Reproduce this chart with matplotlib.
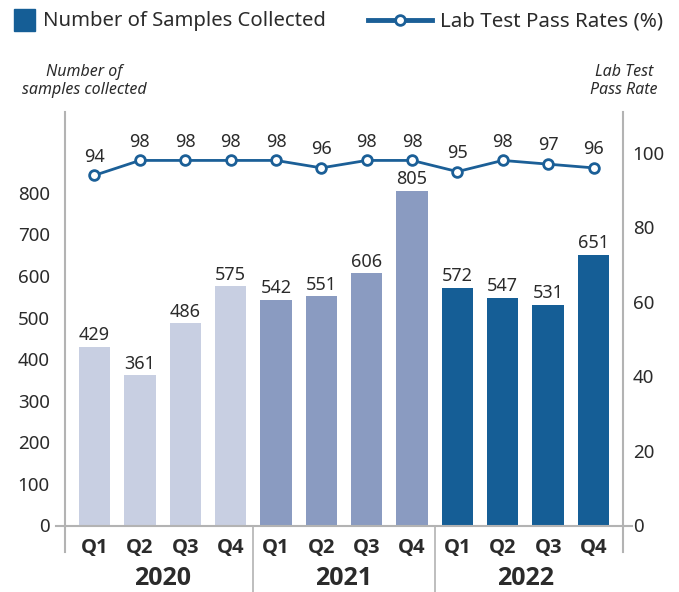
import matplotlib
matplotlib.use("Agg")
import matplotlib.pyplot as plt
from matplotlib.lines import Line2D
from matplotlib.patches import Rectangle

plt.rcParams['font.family'] = ['Noto Sans', 'DejaVu Sans']

years = ["2020", "2021", "2022"]
quarters = ["Q1", "Q2", "Q3", "Q4"]
samples = [429, 361, 486, 575, 542, 551, 606, 805, 572, 547, 531, 651]
pass_rates = [94, 98, 98, 98, 98, 96, 98, 98, 95, 98, 97, 96]
year_colors = ["#c8cfe2", "#8a9bc1", "#155e96"]
line_color = "#1b5f97"
text_color = "#2b2b2b"
grey = "#b3b3b3"
bold_family = ['Open Sans', 'Roboto', 'DejaVu Sans']

W, H = 679, 592
fig = plt.figure(figsize=(W / 100, H / 100), dpi=100)
ax_l, ax_r, ax_b, ax_t = 65, 623, 525.5, 112
ax = fig.add_axes([ax_l / W, 1 - ax_b / H, (ax_r - ax_l) / W, (ax_b - ax_t) / H])
ax2 = ax.twinx()

n = len(samples)
xs = list(range(n))
colors = [year_colors[i // 4] for i in xs]
ax.bar(xs, samples, width=0.69, color=colors, zorder=2)
ax.set_xlim(-0.65, n - 1 + 0.65)
ax.set_ylim(0, 994)
ax2.set_ylim(0, 111)

for x, v in zip(xs, samples):
    ax.annotate(str(v), (x, v), xytext=(0, 2), textcoords="offset points",
                ha="center", va="bottom", fontsize=13, color=text_color)

ax2.plot(xs, pass_rates, color=line_color, lw=2.0, marker="o", markersize=7,
         markerfacecolor="white", markeredgecolor=line_color, markeredgewidth=2, zorder=3)
for x, v in zip(xs, pass_rates):
    ax2.annotate(str(v), (x, v), xytext=(0, 7), textcoords="offset points",
                 ha="center", va="bottom", fontsize=13, color=text_color)

for a in (ax, ax2):
    for s in a.spines.values():
        s.set_visible(False)
ax.set_yticks(range(0, 801, 100))
ax.tick_params(axis="y", length=0, pad=11, labelsize=13.5, labelcolor=text_color)
ax2.set_yticks(range(0, 101, 20))
ax2.tick_params(axis="y", length=0, pad=7, labelsize=13.5, labelcolor=text_color)
ax.set_xticks([])

ax.plot([0, 0], [-0.065, 1], transform=ax.transAxes, color=grey, lw=1.5, clip_on=False, zorder=1)
ax.plot([1, 1], [-0.065, 1], transform=ax.transAxes, color=grey, lw=1.5, clip_on=False, zorder=1)
ax.plot([-0.016, 1.016], [0, 0], transform=ax.transAxes, color=grey, lw=1.5, clip_on=False, zorder=4)

trans = ax.get_xaxis_transform()
for b in (3.5, 7.5):
    ax.plot([b, b], [0, -0.16], transform=trans, color=grey, lw=1.2, clip_on=False)

for x in xs:
    ax.text(x, -0.055, quarters[x % 4], transform=trans, ha="center", va="center",
            fontsize=14.5, fontweight="bold", family=bold_family, color=text_color)
for i, y in enumerate(years):
    ax.text(i * 4 + 1.5, -0.128, y, transform=trans, ha="center", va="center",
            fontsize=18, fontweight="bold", family=bold_family, color=text_color)

fig.text(84 / W, 1 - 81 / H, "Number of\nsamples collected", ha="center", va="center",
         fontsize=11.5, style="italic", color=text_color, linespacing=1.15)
fig.text(624 / W, 1 - 81 / H, "Lab Test\nPass Rate", ha="center", va="center",
         fontsize=11.5, style="italic", color=text_color, linespacing=1.15)

fig.patches.append(Rectangle((14 / W, 1 - 31 / H), 21 / W, 22 / H, transform=fig.transFigure,
                             color="#155e96"))
fig.text(43 / W, 1 - 21 / H, "Number of Samples Collected", ha="left", va="center",
         fontsize=14.6, color=text_color)
fig.lines.append(Line2D([368 / W, 432 / W], [1 - 20 / H, 1 - 20 / H], transform=fig.transFigure,
                        color=line_color, lw=3.5))
fig.lines.append(Line2D([400 / W], [1 - 20 / H], transform=fig.transFigure, marker="o",
                        markersize=7, markerfacecolor="white", markeredgecolor=line_color,
                        markeredgewidth=2))
fig.text(440 / W, 1 - 21 / H, "Lab Test Pass Rates (%)", ha="left", va="center",
         fontsize=14.8, color=text_color)

fig.savefig("out.png", dpi=100)
